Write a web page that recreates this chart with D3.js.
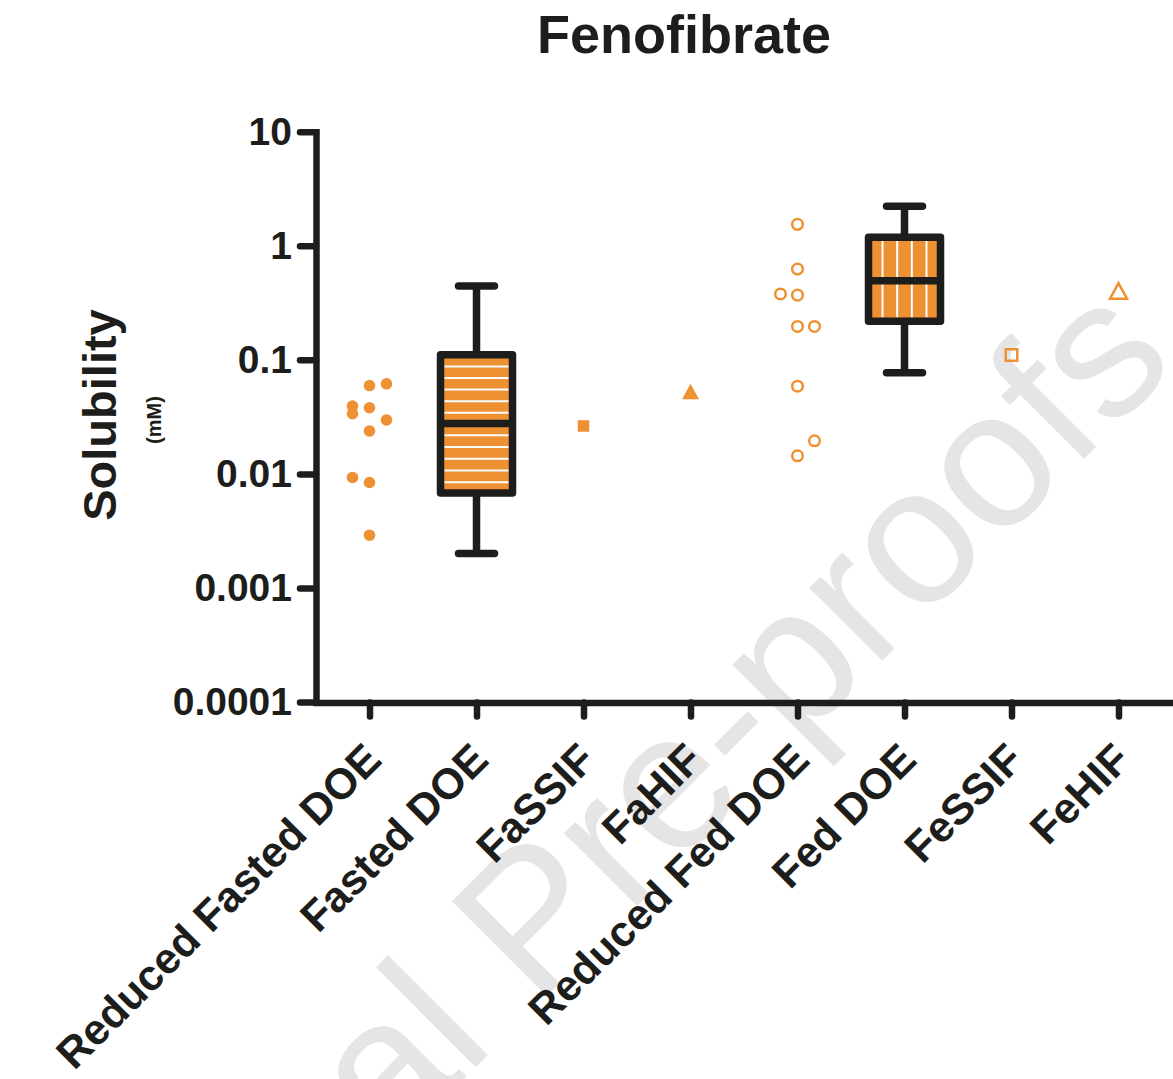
<!DOCTYPE html>
<html>
<head>
<meta charset="utf-8">
<script src="https://cdn.jsdelivr.net/npm/d3@7"></script>
<style>
  html, body { margin: 0; padding: 0; background: #ffffff; }
  svg { display: block; }
</style>
</head>
<body>
<script>
// ---- data -------------------------------------------------------------
const categories = [
  "Reduced Fasted DOE", "Fasted DOE", "FaSSIF", "FaHIF",
  "Reduced Fed DOE", "Fed DOE", "FeSSIF", "FeHIF"
];

const tickValues = [0.0001, 0.001, 0.01, 0.1, 1, 10];
const tickLabels = ["0.0001", "0.001", "0.01", "0.1", "1", "10"];

// individual DOE runs (mM) and the scatter column each point sits in
const reducedFastedValues = [0.0616, 0.0595, 0.0393, 0.0380, 0.0337, 0.0297, 0.0238, 0.0093, 0.0084, 0.0029];
const reducedFastedLanes  = [1, 0, -1, 0, -1, 1, 0, -1, 0, 0];

const reducedFedValues = [1.54, 0.625, 0.378, 0.369, 0.196, 0.196, 0.0587, 0.0195, 0.0144];
const reducedFedLanes  = [0, 0, -1, 0, 0, 1, 0, 1, 0];

// box-and-whisker summaries (min, Q1, median, Q3, max)
const boxGroups = ["Fasted DOE", "Fed DOE"];
const boxMin    = [0.0020, 0.077];
const boxQ1     = [0.0068, 0.218];
const boxMedian = [0.0277, 0.494];
const boxQ3     = [0.111, 1.19];
const boxMax    = [0.444, 2.22];

// single biorelevant media measurements
const mediaGroups = ["FaSSIF", "FaHIF", "FeSSIF", "FeHIF"];
const mediaValues = [0.0263, 0.0528, 0.110, 0.402];

// ---- setup ------------------------------------------------------------
const W = 1173, H = 1079;
const ORANGE = "#ED9133";
const INK = "#1d1d1b";
const FONT = "'Liberation Sans', Arial, Helvetica, sans-serif";

const svg = d3.select("body").append("svg")
  .attr("width", W).attr("height", H)
  .attr("viewBox", `0 0 ${W} ${H}`);

const x = d3.scalePoint().domain(categories).range([316, 1172]).padding(0.5);
const y = d3.scaleLog().domain([0.0001, 10]).range([702, 131.7]);
const laneStep = 17;

// ---- watermark --------------------------------------------------------
svg.append("text")
  .attr("transform", "translate(45,1498) rotate(-45)")
  .attr("font-family", FONT)
  .attr("font-size", 195)
  .attr("fill", "#e5e5e5")
  .text("Journal Pre-proofs");

// ---- title ------------------------------------------------------------
svg.append("text")
  .attr("x", 684).attr("y", 53)
  .attr("text-anchor", "middle")
  .attr("font-family", FONT).attr("font-weight", "bold")
  .attr("font-size", 54).attr("fill", INK)
  .text("Fenofibrate");

// ---- axes -------------------------------------------------------------
const yAxis = d3.axisLeft(y)
  .tickValues(tickValues)
  .tickFormat((d, i) => tickLabels[i])
  .tickSizeInner(16).tickSizeOuter(0).tickPadding(8);

const gy = svg.append("g").attr("transform", "translate(316,0)").call(yAxis);
gy.select(".domain").attr("stroke", INK).attr("stroke-width", 6.5).attr("stroke-linecap", "square");
gy.selectAll(".tick line").attr("stroke", INK).attr("stroke-width", 6.5).attr("stroke-linecap", "round");
gy.selectAll(".tick text")
  .attr("font-family", FONT).attr("font-weight", "bold")
  .attr("font-size", 39).attr("fill", INK);

const xAxis = d3.axisBottom(x).tickSizeInner(14).tickSizeOuter(0).tickFormat("");
const gx = svg.append("g").attr("transform", "translate(0,702.5)").call(xAxis);
gx.select(".domain").attr("stroke", INK).attr("stroke-width", 6.5).attr("stroke-linecap", "square");
gx.selectAll(".tick line").attr("stroke", INK).attr("stroke-width", 6.5).attr("stroke-linecap", "round");

// rotated category labels
svg.append("g").selectAll("text")
  .data(categories)
  .join("text")
  .attr("transform", d => `translate(${x(d) + 14},762) rotate(-45)`)
  .attr("text-anchor", "end")
  .attr("font-family", FONT).attr("font-weight", "bold")
  .attr("font-size", 43).attr("fill", INK)
  .text(d => d);

// axis title
svg.append("text")
  .attr("transform", "translate(116,415) rotate(-90)")
  .attr("text-anchor", "middle")
  .attr("font-family", FONT).attr("font-weight", "bold")
  .attr("font-size", 47).attr("fill", INK)
  .text("Solubility");

svg.append("text")
  .attr("transform", "translate(161,420) rotate(-90)")
  .attr("text-anchor", "middle")
  .attr("font-family", FONT).attr("font-weight", "bold")
  .attr("font-size", 20).attr("fill", INK)
  .text("(mM)");

// ---- box plots --------------------------------------------------------
const boxW = 72, stroke = 7.5, capHalf = 18;
const plot = svg.append("g");

boxGroups.forEach((name, i) => {
  const cx = x(name);
  const yMin = y(boxMin[i]), yQ1 = y(boxQ1[i]), yMed = y(boxMedian[i]);
  const yQ3 = y(boxQ3[i]), yMax = y(boxMax[i]);
  const g = plot.append("g");

  // whiskers and caps
  g.append("line").attr("x1", cx).attr("x2", cx).attr("y1", yMax).attr("y2", yQ3)
    .attr("stroke", INK).attr("stroke-width", stroke);
  g.append("line").attr("x1", cx).attr("x2", cx).attr("y1", yQ1).attr("y2", yMin)
    .attr("stroke", INK).attr("stroke-width", stroke);
  [yMax, yMin].forEach(cy => {
    g.append("line").attr("x1", cx - capHalf).attr("x2", cx + capHalf)
      .attr("y1", cy).attr("y2", cy)
      .attr("stroke", INK).attr("stroke-width", stroke).attr("stroke-linecap", "round");
  });

  // filled box
  g.append("rect")
    .attr("x", cx - boxW / 2).attr("y", yQ3)
    .attr("width", boxW).attr("height", yQ1 - yQ3)
    .attr("fill", ORANGE);

  // white hatching inside each half of the box
  const left = cx - boxW / 2 + stroke / 2, right = cx + boxW / 2 - stroke / 2;
  const hatch = g.append("g").attr("stroke", "#ffffff").attr("stroke-width", 2);
  if (i === 0) {
    [[yQ3 + stroke / 2, yMed - stroke / 2], [yMed + stroke / 2, yQ1 - stroke / 2]].forEach(([t, b]) => {
      const n = 5, s = (b - t) / (n + 0.3);
      d3.range(n).forEach(k => {
        const yy = t + s * (0.7 + k);
        hatch.append("line").attr("x1", left).attr("x2", right).attr("y1", yy).attr("y2", yy);
      });
    });
  } else {
    const n = 4, s = (right - left) / (n + 0.4);
    d3.range(n).forEach(k => {
      const xx = left + s * (0.7 + k);
      hatch.append("line").attr("x1", xx).attr("x2", xx)
        .attr("y1", yQ3 + stroke / 2).attr("y2", yQ1 - stroke / 2);
    });
  }

  // outline and median
  g.append("rect")
    .attr("x", cx - boxW / 2).attr("y", yQ3)
    .attr("width", boxW).attr("height", yQ1 - yQ3)
    .attr("fill", "none").attr("stroke", INK).attr("stroke-width", stroke)
    .attr("stroke-linejoin", "round");
  g.append("line").attr("x1", cx - boxW / 2).attr("x2", cx + boxW / 2)
    .attr("y1", yMed).attr("y2", yMed)
    .attr("stroke", INK).attr("stroke-width", stroke);
});

// ---- scatter points ---------------------------------------------------
plot.append("g").selectAll("circle")
  .data(reducedFastedValues)
  .join("circle")
  .attr("cx", (d, i) => x("Reduced Fasted DOE") + reducedFastedLanes[i] * laneStep)
  .attr("cy", d => y(d))
  .attr("r", 5.8)
  .attr("fill", ORANGE);

plot.append("g").selectAll("circle")
  .data(reducedFedValues)
  .join("circle")
  .attr("cx", (d, i) => x("Reduced Fed DOE") + reducedFedLanes[i] * laneStep)
  .attr("cy", d => y(d))
  .attr("r", 5.3)
  .attr("fill", "none")
  .attr("stroke", ORANGE)
  .attr("stroke-width", 2.5);

// media markers: filled square, filled triangle, open square, open triangle
const triangle = (w, h) => `M0,${-h / 2}L${w / 2},${h / 2}L${-w / 2},${h / 2}Z`;
const square = s => `M${-s / 2},${-s / 2}H${s / 2}V${s / 2}H${-s / 2}Z`;
const mediaShapes = [
  { path: square(11.5), filled: true },
  { path: triangle(17, 15.5), filled: true },
  { path: square(11.5), filled: false },
  { path: triangle(17, 15.5), filled: false }
];

plot.append("g").selectAll("path")
  .data(mediaValues)
  .join("path")
  .attr("transform", (d, i) => `translate(${x(mediaGroups[i])},${y(d)})`)
  .attr("d", (d, i) => mediaShapes[i].path)
  .attr("fill", (d, i) => mediaShapes[i].filled ? ORANGE : "none")
  .attr("stroke", (d, i) => mediaShapes[i].filled ? "none" : ORANGE)
  .attr("stroke-width", 2.5)
  .attr("stroke-linejoin", "miter");
</script>
</body>
</html>
